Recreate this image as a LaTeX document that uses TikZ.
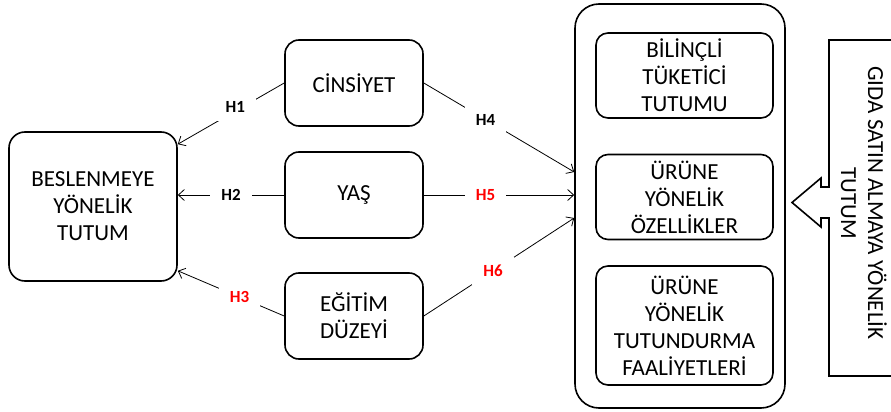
\documentclass[tikz,border=0pt]{standalone}
\usepackage{fontspec}
\setmainfont{Carlito}
\usepackage{tikz}
\usetikzlibrary{arrows.meta, positioning}
\tikzset{
  factor/.style = {shape=rectangle, rounded corners=14pt,
                   draw, line width=1.6pt, align=center,
                   minimum width=138pt, minimum height=86pt,
                   font=\fontsize{23}{27}\selectfont},
  attitude/.style = {factor, rounded corners=16pt,
                     minimum width=168pt, minimum height=149pt},
  groupbox/.style = {shape=rectangle, rounded corners=24pt,
                     draw, line width=1.6pt,
                     minimum width=210pt, minimum height=404pt},
  subbox/.style = {factor, rounded corners=12pt,
                   minimum width=177pt, minimum height=85pt},
  arrow/.style = {line width=0.8pt, -{Straight Barb[length=6pt,width=11pt]}},
  hlabel/.style = {fill=white, inner xsep=11pt, inner ysep=8pt,
                   font=\bfseries\fontsize{17}{19}\selectfont},
  hred/.style = {hlabel, text=red}
}
\begin{document}
\begin{tikzpicture}[node distance=112pt]
            \useasboundingbox (0,0) rectangle (891pt,-412pt);
            \node (cins) [factor] at (354pt,-83pt) {CİNSİYET};
            \node (yas) [factor, below of=cins] {YAŞ};
            \node (egit) [factor, below of=yas, yshift=-9pt] {EĞİTİM\\DÜZEYİ};
            \node (besl) [attitude] at (93pt,-206.5pt) {BESLENMEYE\\YÖNELİK\\TUTUM};
            \node (grup) [groupbox] at (680pt,-206pt) {};
            \node (bil) [subbox] at (684.5pt,-75.5pt) {BİLİNÇLİ\\TÜKETİCİ\\TUTUMU};
            \node (ozel) [subbox, node distance=121.5pt, below of=bil] {ÜRÜNE\\YÖNELİK\\ÖZELLİKLER};
            \node (tut) [subbox, minimum height=119pt, node distance=128.5pt, below of=ozel] {ÜRÜNE\\YÖNELİK\\TUTUNDURMA\\FAALİYETLERİ};
            \node (gida) [rotate=-90, align=center, font=\fontsize{23}{27}\selectfont] at (864pt,-203pt) {GIDA SATIN ALMAYA YÖNELİK\\TUTUM};

            % buyuk ok
            \draw [line width=1.6pt] (895pt,-40pt) -- (829pt,-40pt) -- (829pt,-187pt) -- (821pt,-187pt) -- (821pt,-178pt)
                -- (792pt,-202.5pt) -- (821pt,-227pt) -- (821pt,-218pt) -- (829pt,-218pt) -- (829pt,-376pt) -- (895pt,-376pt);

            \draw [arrow] (cins.west) -- node[hlabel, pos=0.46, yshift=4pt] {H1} ([yshift=-13pt]besl.north east);
            \draw [arrow] (yas.west) -- node[hlabel] {H2} (yas.west -| besl.east);
            \draw [arrow] (egit.west) -- node[hred, pos=0.42] {H3} ([yshift=11pt]besl.south east);
            \draw [arrow] (cins.east) -- node[hlabel, pos=0.41] {H4} ([yshift=34pt]grup.west);
            \draw [arrow] (yas.east) -- node[hred, pos=0.41] {H5} (yas.east -| grup.west);
            \draw [arrow] (egit.east) -- node[hred, pos=0.46] {H6} ([yshift=-12pt]grup.west);
        \end{tikzpicture}
\end{document}
